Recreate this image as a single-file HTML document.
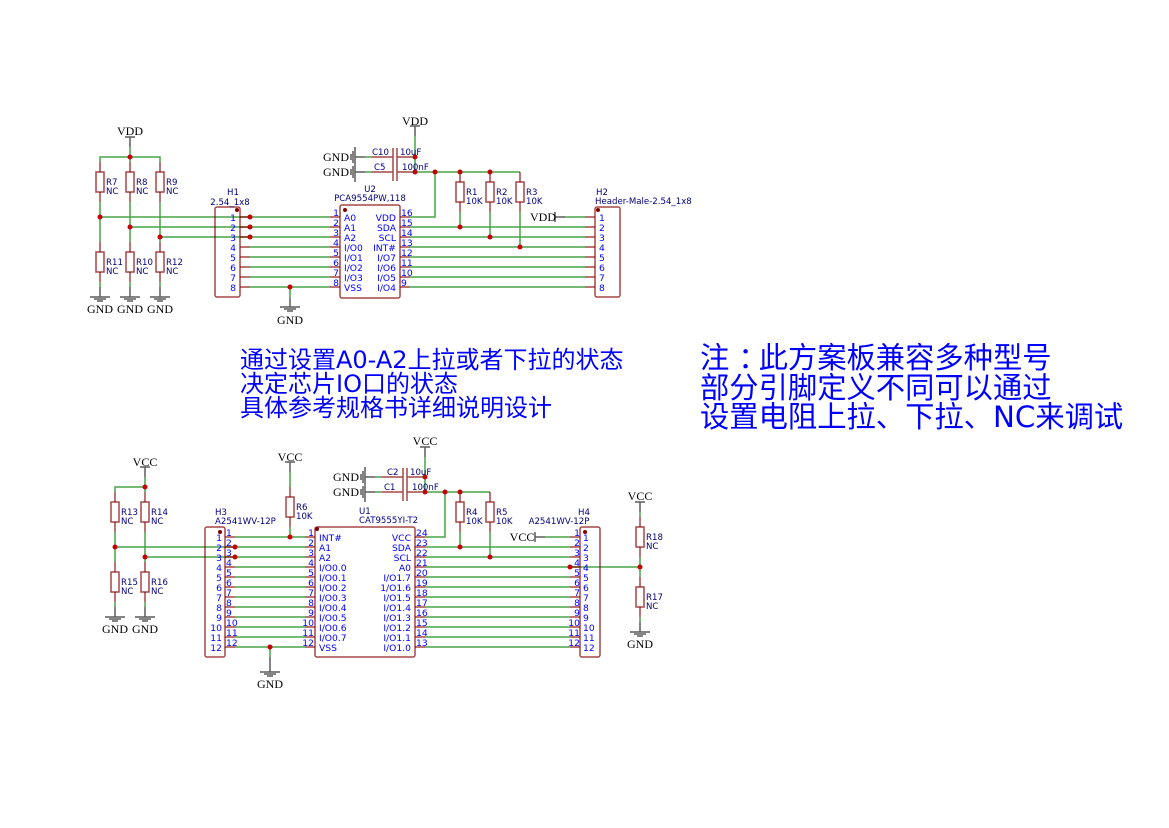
<!DOCTYPE html>
<html><head><meta charset="utf-8"><style>
html,body{margin:0;padding:0;background:#fff}
svg{display:block}
.w{stroke:#008000;stroke-width:1.5;fill:none;opacity:.72}
.p{stroke:#840000;stroke-width:1.5;fill:none;opacity:.72}
.g{stroke:#333;stroke-width:1.5;fill:none;opacity:.8}
.s{stroke:#840000;stroke-width:1.5;fill:none;opacity:.72}
.dot{fill:#c80000;stroke:none}
.k{fill:#840000;stroke:none}
text{font-family:"DejaVu Sans","WenQuanYi Zen Hei",sans-serif;font-size:9.2px;fill:#0000ff}
.n{fill:#000080;font-size:8.6px}
.t{font-family:"Liberation Serif",serif;font-size:12px;fill:#000;text-anchor:middle}
.e{text-anchor:end}.m{text-anchor:middle}
.b1{font-size:24px}.b2{font-size:29.3px}
</style></head><body>
<svg width="1169" height="828" viewBox="0 0 1169 828" xmlns="http://www.w3.org/2000/svg">
<rect width="1169" height="828" fill="#fff"/>
<!-- TOP wires -->
<path class="w" d="M130 147V162M100 162V157H160V162M100 202V242M130 202V242M160 202V242M100 282V287M130 282V287M160 282V287
M100 217H330M130 227H330M160 237H330M250 247H330M250 257H330M250 267H330M250 277H330M250 287H330M290 287V298
M365 157H372M365 172H372M415 136V172M412 157H415M412 172H520V172M435 172V217H410
M460 212V227M490 212V237M520 212V247M410 227H585M410 237H585M410 247H585M410 257H585M410 267H585M410 277H585M410 287H585M565 217H585"/>
<path class="p" d="M100 162V172M100 192V202M130 162V172M130 192V202M160 162V172M160 192V202M100 242V252M100 272V282M130 242V252M130 272V282M160 242V252M160 272V282
M240 217H250M240 227H250M240 237H250M240 247H250M240 257H250M240 267H250M240 277H250M240 287H250
M330 217H340M330 227H340M330 237H340M330 247H340M330 257H340M330 267H340M330 277H340M330 287H340
M400 217H410M400 227H410M400 237H410M400 247H410M400 257H410M400 267H410M400 277H410M400 287H410
M585 217H595M585 227H595M585 237H595M585 247H595M585 257H595M585 267H595M585 277H595M585 287H595
M372 157H393M397 157H412M372 172H393M397 172H412M393 148V166M397 148V166M393 163V181M397 163V181
M460 172V182M460 202V212M490 172V182M490 202V212M520 172V182M520 202V212"/>
<g class="s">
<rect x="96" y="172" width="8" height="20"/><rect x="126" y="172" width="8" height="20"/><rect x="156" y="172" width="8" height="20"/>
<rect x="96" y="252" width="8" height="20"/><rect x="126" y="252" width="8" height="20"/><rect x="156" y="252" width="8" height="20"/>
<rect x="456" y="182" width="8" height="20"/><rect x="486" y="182" width="8" height="20"/><rect x="516" y="182" width="8" height="20"/>
<rect x="215" y="207" width="25" height="90" rx="2"/><rect x="340" y="205" width="60" height="93" rx="2"/><rect x="595" y="207" width="25" height="90" rx="2"/>
</g>
<path class="g" d="M130 137V147M125 137H135M90 297H110M94 299H106M97 301H103M120 297H140M124 299H136M127 301H133M150 297H170M154 299H166M157 301H163M100 287V297M130 287V297M160 287V297
M290 298V307M280 307H300M284 309H296M287 311H293
M415 126V136M410 126H420M555 212V222M555 217H565
M355 157H365M355 147V167M353 151V163M351 154V160M355 172H365M355 162V182M353 166V178M351 169V175"/>
<g class="dot">
<circle cx="130" cy="157" r="2.5"/><circle cx="100" cy="217" r="2.5"/><circle cx="130" cy="227" r="2.5"/><circle cx="160" cy="237" r="2.5"/>
<circle cx="250" cy="217" r="2.5"/><circle cx="250" cy="227" r="2.5"/><circle cx="250" cy="237" r="2.5"/><circle cx="290" cy="287" r="2.5"/>
<circle cx="415" cy="157" r="2.5"/><circle cx="415" cy="172" r="2.5"/><circle cx="435" cy="172" r="2.5"/><circle cx="460" cy="172" r="2.5"/><circle cx="490" cy="172" r="2.5"/>
<circle cx="460" cy="227" r="2.5"/><circle cx="490" cy="237" r="2.5"/><circle cx="520" cy="247" r="2.5"/>
</g>
<g class="k"><circle cx="237" cy="210" r="2"/><circle cx="345" cy="210" r="2"/><circle cx="598" cy="210" r="2"/></g>
<text class="t" x="130" y="135">VDD</text><text class="t" x="415" y="125">VDD</text>
<text class="t" x="100" y="313">GND</text><text class="t" x="130" y="313">GND</text><text class="t" x="160" y="313">GND</text><text class="t" x="290" y="324">GND</text>
<text class="t" x="336" y="161">GND</text><text class="t" x="336" y="176">GND</text><text class="t" x="543" y="221">VDD</text>
<text class="n" x="106" y="185">R7</text><text class="n" x="106" y="194">NC</text><text class="n" x="136" y="185">R8</text><text class="n" x="136" y="194">NC</text><text class="n" x="166" y="185">R9</text><text class="n" x="166" y="194">NC</text>
<text class="n" x="106" y="265">R11</text><text class="n" x="106" y="274">NC</text><text class="n" x="136" y="265">R10</text><text class="n" x="136" y="274">NC</text><text class="n" x="166" y="265">R12</text><text class="n" x="166" y="274">NC</text>
<text class="n" x="466" y="195">R1</text><text class="n" x="466" y="204">10K</text><text class="n" x="496" y="195">R2</text><text class="n" x="496" y="204">10K</text><text class="n" x="526" y="195">R3</text><text class="n" x="526" y="204">10K</text>
<text class="n m" x="233" y="195">H1</text><text class="n m" x="230" y="205">2.54_1x8</text>
<text class="n m" x="370" y="192">U2</text><text class="n m" x="370" y="201">PCA9554PW,118</text>
<text class="n" x="596" y="195">H2</text><text class="n" x="595" y="204">Header-Male-2.54_1x8</text>
<text class="n" x="372" y="155">C10</text><text class="n" x="374" y="170">C5</text><text class="n" x="400" y="155">10uF</text><text class="n" x="402" y="170">100nF</text>
<text class="e" x="236" y="221">1</text><text class="e" x="236" y="231">2</text><text class="e" x="236" y="241">3</text><text class="e" x="236" y="251">4</text><text class="e" x="236" y="261">5</text><text class="e" x="236" y="271">6</text><text class="e" x="236" y="281">7</text><text class="e" x="236" y="291">8</text>
<text class="e" x="339" y="216">1</text><text class="e" x="339" y="226">2</text><text class="e" x="339" y="236">3</text><text class="e" x="339" y="246">4</text><text class="e" x="339" y="256">5</text><text class="e" x="339" y="266">6</text><text class="e" x="339" y="276">7</text><text class="e" x="339" y="286">8</text>
<text class="e" x="396" y="221">VDD</text><text class="e" x="396" y="231">SDA</text><text class="e" x="396" y="241">SCL</text><text class="e" x="396" y="251">INT#</text><text class="e" x="396" y="261">I/O7</text><text class="e" x="396" y="271">I/O6</text><text class="e" x="396" y="281">I/O5</text><text class="e" x="396" y="291">I/O4</text>
<text x="344" y="221">A0</text><text x="344" y="231">A1</text><text x="344" y="241">A2</text><text x="344" y="251">I/O0</text><text x="344" y="261">I/O1</text><text x="344" y="271">I/O2</text><text x="344" y="281">I/O3</text><text x="344" y="291">VSS</text>
<text x="401" y="216">16</text><text x="401" y="226">15</text><text x="401" y="236">14</text><text x="401" y="246">13</text><text x="401" y="256">12</text><text x="401" y="266">11</text><text x="401" y="276">10</text><text x="401" y="286">9</text>
<text x="599" y="221">1</text><text x="599" y="231">2</text><text x="599" y="241">3</text><text x="599" y="251">4</text><text x="599" y="261">5</text><text x="599" y="271">6</text><text x="599" y="281">7</text><text x="599" y="291">8</text>
<!-- Big text -->
<text class="b1" x="240" y="368">通过设置A0-A2上拉或者下拉的状态</text><text class="b1" x="240" y="392">决定芯片IO口的状态</text><text class="b1" x="240" y="416">具体参考规格书详细说明设计</text>
<text class="b2" x="700" y="368">注<tspan dx="9">：</tspan><tspan dx="-9">此方案板兼容多种型号</tspan></text><text class="b2" x="700" y="398">部分引脚定义不同可以通过</text><text class="b2" x="700" y="427">设置电阻上拉、下拉、NC来调试</text>
<!-- BOTTOM wires -->
<path class="w" d="M145 477V492M115 492V487H145M115 532V562M145 532V562M115 602V607M145 602V607M115 547H305M145 557H305
M235 537H305M235 567H305M235 577H305M235 587H305M235 597H305M235 607H305M235 617H305M235 627H305M235 637H305M235 647H305
M290 472V487M290 527V537M270 647V657
M375 477H382M375 492H382M425 457V492M422 477H425M422 492H490V492M445 492V537H425M460 532V547M490 532V557
M425 547H570M425 557H570M425 567H640M425 577H570M425 587H570M425 597H570M425 607H570M425 617H570M425 627H570M425 637H570M425 647H570M545 537H570
M640 512V517M640 557V577M640 617V622"/>
<path class="p" d="M115 492V502M115 522V532M145 492V502M145 522V532M115 562V572M115 592V602M145 562V572M145 592V602
M225 537H235M225 547H235M225 557H235M225 567H235M225 577H235M225 587H235M225 597H235M225 607H235M225 617H235M225 627H235M225 637H235M225 647H235
M305 537H315M305 547H315M305 557H315M305 567H315M305 577H315M305 587H315M305 597H315M305 607H315M305 617H315M305 627H315M305 637H315M305 647H315
M415 537H425M415 547H425M415 557H425M415 567H425M415 577H425M415 587H425M415 597H425M415 607H425M415 617H425M415 627H425M415 637H425M415 647H425
M570 537H580M570 547H580M570 557H580M570 567H580M570 577H580M570 587H580M570 597H580M570 607H580M570 617H580M570 627H580M570 637H580M570 647H580
M290 487V497M290 517V527M382 477H403M407 477H422M382 492H403M407 492H422M403 468V486M407 468V486M403 483V501M407 483V501
M460 492V502M460 522V532M490 492V502M490 522V532M640 517V527M640 547V557M640 577V587M640 607V617"/>
<g class="s">
<rect x="111" y="502" width="8" height="20"/><rect x="141" y="502" width="8" height="20"/><rect x="111" y="572" width="8" height="20"/><rect x="141" y="572" width="8" height="20"/>
<rect x="286" y="497" width="8" height="20"/><rect x="456" y="502" width="8" height="20"/><rect x="486" y="502" width="8" height="20"/><rect x="636" y="527" width="8" height="20"/><rect x="636" y="587" width="8" height="20"/>
<rect x="205" y="527" width="20" height="130" rx="2"/><rect x="315" y="527" width="100" height="130" rx="2"/><rect x="580" y="527" width="20" height="130" rx="2"/>
</g>
<path class="g" d="M145 467V477M140 467H150M290 462V472M285 462H295M115 607V617M105 617H125M109 619H121M112 621H118M145 607V617M135 617H155M139 619H151M142 621H148
M270 657V672M260 672H280M264 674H276M267 676H273M425 447V457M420 447H430M535 532V542M535 537H545
M640 502V512M635 502H645M640 622V632M630 632H650M634 634H646M637 636H643
M365 477H375M365 467V487M363 471V483M361 474V480M365 492H375M365 482V502M363 486V498M361 489V495"/>
<g class="dot">
<circle cx="145" cy="487" r="2.5"/><circle cx="115" cy="547" r="2.5"/><circle cx="145" cy="557" r="2.5"/><circle cx="235" cy="547" r="2.5"/><circle cx="235" cy="557" r="2.5"/><circle cx="290" cy="537" r="2.5"/><circle cx="270" cy="647" r="2.5"/>
<circle cx="425" cy="477" r="2.5"/><circle cx="425" cy="492" r="2.5"/><circle cx="445" cy="492" r="2.5"/><circle cx="460" cy="492" r="2.5"/><circle cx="460" cy="547" r="2.5"/><circle cx="490" cy="557" r="2.5"/><circle cx="570" cy="567" r="2.5"/><circle cx="640" cy="567" r="2.5"/>
</g>
<g class="k"><circle cx="220" cy="532" r="2"/><circle cx="317" cy="529" r="2"/><circle cx="585" cy="532" r="2"/></g>
<text class="t" x="145" y="466">VCC</text><text class="t" x="290" y="461">VCC</text><text class="t" x="425" y="445">VCC</text><text class="t" x="522" y="541">VCC</text><text class="t" x="640" y="500">VCC</text>
<text class="t" x="115" y="633">GND</text><text class="t" x="145" y="633">GND</text><text class="t" x="270" y="688">GND</text><text class="t" x="346" y="481">GND</text><text class="t" x="346" y="496">GND</text><text class="t" x="640" y="648">GND</text>
<text class="n" x="121" y="515">R13</text><text class="n" x="121" y="524">NC</text><text class="n" x="151" y="515">R14</text><text class="n" x="151" y="524">NC</text>
<text class="n" x="121" y="585">R15</text><text class="n" x="121" y="594">NC</text><text class="n" x="151" y="585">R16</text><text class="n" x="151" y="594">NC</text>
<text class="n" x="296" y="510">R6</text><text class="n" x="296" y="519">10K</text><text class="n" x="466" y="515">R4</text><text class="n" x="466" y="524">10K</text><text class="n" x="496" y="515">R5</text><text class="n" x="496" y="524">10K</text>
<text class="n" x="646" y="540">R18</text><text class="n" x="646" y="549">NC</text><text class="n" x="646" y="600">R17</text><text class="n" x="646" y="609">NC</text>
<text class="n" x="215" y="515">H3</text><text class="n" x="215" y="524">A2541WV-12P</text><text class="n" x="359" y="514">U1</text><text class="n" x="359" y="523">CAT9555YI-T2</text>
<text class="n m" x="584" y="515">H4</text><text class="n m" x="559" y="524">A2541WV-12P</text>
<text class="n" x="387" y="475">C2</text><text class="n" x="384" y="490">C1</text><text class="n" x="410" y="475">10uF</text><text class="n" x="412" y="490">100nF</text>
<text class="e" x="222" y="541">1</text><text class="e" x="222" y="551">2</text><text class="e" x="222" y="561">3</text><text class="e" x="222" y="571">4</text><text class="e" x="222" y="581">5</text><text class="e" x="222" y="591">6</text><text class="e" x="222" y="601">7</text><text class="e" x="222" y="611">8</text><text class="e" x="222" y="621">9</text><text class="e" x="222" y="631">10</text><text class="e" x="222" y="641">11</text><text class="e" x="222" y="651">12</text>
<text x="226" y="536">1</text><text x="226" y="546">2</text><text x="226" y="556">3</text><text x="226" y="566">4</text><text x="226" y="576">5</text><text x="226" y="586">6</text><text x="226" y="596">7</text><text x="226" y="606">8</text><text x="226" y="616">9</text><text x="226" y="626">10</text><text x="226" y="636">11</text><text x="226" y="646">12</text>
<text class="e" x="314" y="536">1</text><text class="e" x="314" y="546">2</text><text class="e" x="314" y="556">3</text><text class="e" x="314" y="566">4</text><text class="e" x="314" y="576">5</text><text class="e" x="314" y="586">6</text><text class="e" x="314" y="596">7</text><text class="e" x="314" y="606">8</text><text class="e" x="314" y="616">9</text><text class="e" x="314" y="626">10</text><text class="e" x="314" y="636">11</text><text class="e" x="314" y="646">12</text>
<text x="319" y="541">INT#</text><text x="319" y="551">A1</text><text x="319" y="561">A2</text><text x="319" y="571">I/O0.0</text><text x="319" y="581">I/O0.1</text><text x="319" y="591">I/O0.2</text><text x="319" y="601">I/O0.3</text><text x="319" y="611">I/O0.4</text><text x="319" y="621">I/O0.5</text><text x="319" y="631">I/O0.6</text><text x="319" y="641">I/O0.7</text><text x="319" y="651">VSS</text>
<text class="e" x="411" y="541">VCC</text><text class="e" x="411" y="551">SDA</text><text class="e" x="411" y="561">SCL</text><text class="e" x="411" y="571">A0</text><text class="e" x="411" y="581">I/O1.7</text><text class="e" x="411" y="591">1/O1.6</text><text class="e" x="411" y="601">I/O1.5</text><text class="e" x="411" y="611">I/O1.4</text><text class="e" x="411" y="621">I/O1.3</text><text class="e" x="411" y="631">I/O1.2</text><text class="e" x="411" y="641">I/O1.1</text><text class="e" x="411" y="651">I/O1.0</text>
<text x="416" y="536">24</text><text x="416" y="546">23</text><text x="416" y="556">22</text><text x="416" y="566">21</text><text x="416" y="576">20</text><text x="416" y="586">19</text><text x="416" y="596">18</text><text x="416" y="606">17</text><text x="416" y="616">16</text><text x="416" y="626">15</text><text x="416" y="636">14</text><text x="416" y="646">13</text>
<text class="e" x="580" y="536">1</text><text class="e" x="580" y="546">2</text><text class="e" x="580" y="556">3</text><text class="e" x="580" y="566">4</text><text class="e" x="580" y="576">5</text><text class="e" x="580" y="586">6</text><text class="e" x="580" y="596">7</text><text class="e" x="580" y="606">8</text><text class="e" x="580" y="616">9</text><text class="e" x="580" y="626">10</text><text class="e" x="580" y="636">11</text><text class="e" x="580" y="646">12</text>
<text x="583" y="541">1</text><text x="583" y="551">2</text><text x="583" y="561">3</text><text x="583" y="571">4</text><text x="583" y="581">5</text><text x="583" y="591">6</text><text x="583" y="601">7</text><text x="583" y="611">8</text><text x="583" y="621">9</text><text x="583" y="631">10</text><text x="583" y="641">11</text><text x="583" y="651">12</text>
</svg>
</body></html>
